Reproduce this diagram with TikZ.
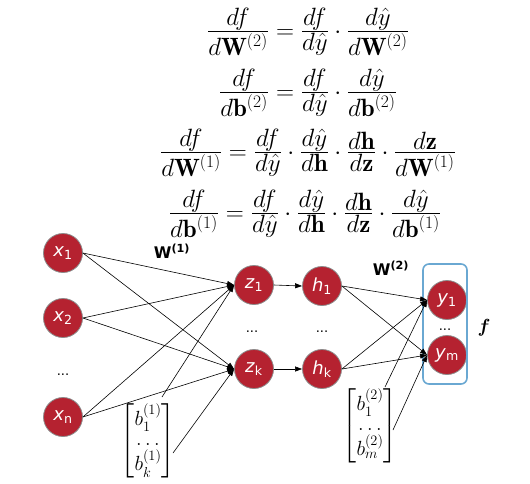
\RequirePackage{fix-cm}
\documentclass[tikz,border=0pt]{standalone}
\usepackage{amsmath,bm}
\usepackage{fontspec}
\setsansfont{DejaVu Sans}
\usetikzlibrary{arrows.meta}
\definecolor{nred}{RGB}{181,34,48}
\definecolor{ngray}{RGB}{140,140,140}
\definecolor{nblue}{RGB}{106,168,210}
\tikzset{
  neuron/.style={circle, fill=nred, draw=ngray, line width=0.8pt, minimum size=39pt, inner sep=0pt,
    text=white, font=\sffamily\fontsize{18}{18}\selectfont},
  arr/.style={-{Triangle[length=7pt,width=5pt]}, line width=0.6pt, black},
  eqn/.style={font=\fontsize{25}{28}\selectfont, inner sep=0pt, anchor=base},
  dotsl/.style={font=\sffamily\fontsize{13}{13}\selectfont, inner sep=0pt},
  wlab/.style={font=\sffamily\bfseries\fontsize{16}{16}\selectfont, inner sep=0pt},
  bias/.style={font=\fontsize{20.5}{23}\selectfont, inner sep=0pt},
  fbox/.style={draw=nblue, line width=1.6pt, rounded corners=6pt, minimum width=44pt, minimum height=120pt, inner sep=0pt}
}
\newcommand{\nl}[2]{\textit{#1}\textsubscript{#2}}
\newcommand{\ff}[2]{\frac{\textstyle #1}{\textstyle #2}}
\begin{document}
\begin{tikzpicture}[x=1pt,y=-1pt]
\useasboundingbox (0,0) rectangle (530,483);
% equations
\node[eqn] (e1) at (308,38) {$\ff{df}{d\mathbf{W}^{(2)}}=\ff{df}{d\hat{y}}\cdot\ff{d\hat{y}}{d\mathbf{W}^{(2)}}$};
\node[eqn] (e2) at (308,99) {$\ff{df}{d\mathbf{b}^{(2)}}=\ff{df}{d\hat{y}}\cdot\ff{d\hat{y}}{d\mathbf{b}^{(2)}}$};
\node[eqn] (e3) at (308,159) {$\ff{df}{d\mathbf{W}^{(1)}}=\ff{df}{d\hat{y}}\cdot\ff{d\hat{y}}{d\mathbf{h}}\cdot\ff{d\mathbf{h}}{d\mathbf{z}}\cdot\ff{d\mathbf{z}}{d\mathbf{W}^{(1)}}$};
\node[eqn] (e4) at (305,220) {$\ff{df}{d\mathbf{b}^{(1)}}=\ff{df}{d\hat{y}}\cdot\ff{d\hat{y}}{d\mathbf{h}}\cdot\ff{d\mathbf{h}}{d\mathbf{z}}\cdot\ff{d\hat{y}}{d\mathbf{b}^{(1)}}$};
% neurons
\node[neuron] (x1) at (63,253) {\nl{x}{1}};
\node[neuron] (x2) at (63,318) {\nl{x}{2}};
\node[dotsl] (xd) at (63,375) {...};
\node[neuron] (xn) at (63,417) {\nl{x}{n}};
\node[neuron] (z1) at (254,285) {\nl{z}{1}};
\node[dotsl] (zd) at (252,332) {...};
\node[neuron] (zk) at (254,369) {\nl{z}{k}};
\node[neuron] (h1) at (322,286) {\nl{h}{1}};
\node[dotsl] (hd) at (322,332) {...};
\node[neuron] (hk) at (322,369) {\nl{h}{k}};
\node[neuron] (y1) at (447,300) {\nl{y}{1}};
\node[dotsl] (yd) at (445,330) {...};
\node[neuron] (ym) at (447,355) {\nl{y}{m}};
\node[fbox] (fb) at (445,324) {};
\node[font=\fontsize{19}{19}\selectfont, inner sep=0pt] (fl) at (484,328) {$\bm{f}$};
% weight labels
\node[wlab] (w1) at (172,251) {W\textsuperscript{(1)}};
\node[wlab] (w2) at (391,268) {W\textsuperscript{(2)}};
% biases
\node[bias] (b1) at (148,441) {$\begin{bmatrix} b_1^{(1)}\\[-3pt] \ldots\\[-3pt] b_k^{(1)}\end{bmatrix}$};
\node[bias] (b2) at (370,426) {$\begin{bmatrix} b_1^{(2)}\\[-3pt] \ldots\\[-3pt] b_m^{(2)}\end{bmatrix}$};
\coordinate (b1a) at (162,397);
\coordinate (b1b) at (173,453);
\coordinate (b2a) at (385,387);
\coordinate (b2b) at (393,430);
% connections layer 1
\foreach \s in {x1,x2,xn}{
  \draw[arr] (\s.east) -- (z1.west);
  \draw[arr] (\s.east) -- (zk.west);
}
\draw[arr] (b1a) -- (z1.west);
\draw[arr] (b1b) -- (zk.west);
\draw[arr] (z1.east) -- (h1.west);
\draw[arr] (zk.east) -- (hk.west);
\foreach \s in {h1,hk}{
  \draw[arr] (\s.east) -- (y1.west);
  \draw[arr] (\s.east) -- (ym.west);
}
\draw[arr] (b2a) -- (y1.west);
\draw[arr] (b2b) -- (ym.west);
\end{tikzpicture}
\end{document}
